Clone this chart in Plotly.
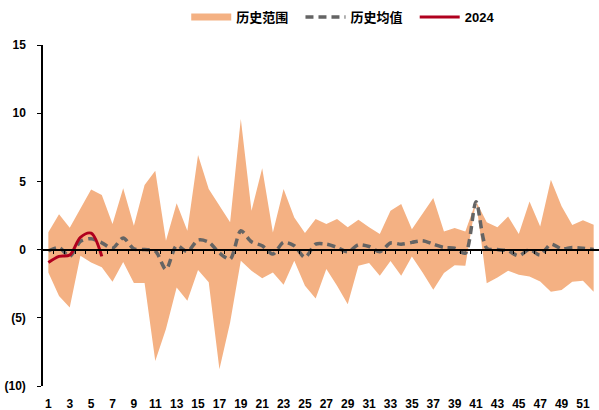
import plotly.graph_objects as go

weeks = list(range(1, 53))

range_upper = [1.28, 2.6, 1.6, 3.0, 4.4, 4.0, 1.87, 4.5, 1.75, 4.73,
               5.78, 0.65, 3.39, 1.38, 6.93, 4.44, 3.2, 2.0, 9.57, 2.85,
               5.96, 1.26, 4.44, 2.36, 1.21, 2.24, 1.87, 2.24, 1.63, 2.19,
               1.63, 1.14, 2.85, 3.34, 1.5, 2.6, 3.78, 1.33, 1.58, 1.33,
               3.55, 2.0, 1.63, 2.43, 1.14, 3.53, 1.7, 5.12, 3.17, 1.8,
               2.16, 1.82]

range_lower = [-1.67, -3.4, -4.25, -0.45, -0.95, -1.3, -2.35, -0.9, -2.45, -2.45,
               -8.16, -5.83, -2.78, -3.75, -1.5, -2.4, -8.77, -5.34, -0.82, -1.55,
               -2.1, -1.67, -2.58, -0.82, -2.65, -3.58, -1.43, -2.65, -4.0, -1.19,
               -0.99, -1.92, -0.84, -1.92, -0.5, -1.67, -2.95, -1.72, -1.14, -1.19,
               3.55, -2.46, -2.04, -1.55, -1.85, -1.97, -2.33, -3.09, -2.97, -2.36,
               -2.29, -3.09]

hist_mean = [-0.1, 0.15, -0.5, 0.6, 0.8, 0.5, 0.1, 0.85, 0.05, 0.0,
             -0.1, -1.45, 0.3, -0.15, 0.7, 0.55, -0.25, -0.7, 1.38, 0.57,
             0.28, -0.33, 0.53, 0.28, -0.57, 0.4, 0.4, 0.16, -0.16, 0.35,
             0.23, -0.16, 0.48, 0.4, 0.53, 0.65, 0.4, 0.16, 0.1, -0.26,
             3.5, 0.1, 0.0, -0.1, -0.45, 0.0, -0.4, 0.4, 0.05, 0.15,
             0.1, 0.0]

weeks_2024 = [1, 2, 3, 4, 5, 6]
values_2024 = [-0.95, -0.5, -0.4, 0.9, 1.2, -0.5]

y_tickvals = [15, 10, 5, 0, -5, -10]
y_ticktext = ["15", "10", "5", "0", "(5)", "(10)"]
x_tickvals = list(range(1, 53, 2))

FILL = "#F4B183"
GRAY = "#646464"
RED = "#B0001E"
FONT = "Liberation Sans, Arial, Noto Sans CJK SC, sans-serif"

fig = go.Figure()

fig.add_trace(go.Scatter(x=weeks, y=range_lower, mode="lines",
                         line=dict(width=0, color=FILL), showlegend=False,
                         hoverinfo="skip"))
fig.add_trace(go.Scatter(x=weeks, y=range_upper, mode="lines",
                         line=dict(width=0, color=FILL), fill="tonexty",
                         fillcolor=FILL, showlegend=False, hoverinfo="skip"))
# legend proxy for range
fig.add_trace(go.Scatter(x=[None], y=[None], mode="lines",
                         line=dict(width=7, color=FILL), name="历史范围  "))
fig.add_trace(go.Scatter(x=weeks, y=hist_mean, mode="lines", name="历史均值  ",
                         line=dict(color=GRAY, width=3.5, dash="8px,5px",
                                   shape="spline", smoothing=0.8)))
fig.add_trace(go.Scatter(x=weeks_2024, y=values_2024, mode="lines", name="2024",
                         line=dict(color=RED, width=3, shape="spline",
                                   smoothing=0.9)))

# tick-mark axis sitting on the zero line
fig.add_trace(go.Scatter(x=[None], y=[None], xaxis="x2", showlegend=False))

fig.update_layout(
    width=599, height=410,
    margin=dict(l=43, r=0, t=45, b=24, autoexpand=False),
    paper_bgcolor="white", plot_bgcolor="white",
    font=dict(family=FONT, size=12, color="black", weight="bold"),
    legend=dict(orientation="h", x=0.54, xanchor="center", y=1.082,
                yanchor="middle", font=dict(size=13, weight="bold"),
                itemwidth=40, traceorder="normal"),
    xaxis=dict(range=[0.5, 52.5], tickvals=x_tickvals,
               ticktext=[str(v) for v in x_tickvals],
               showline=False, showgrid=False, zeroline=False, ticks="",
               automargin=False, ticklabelstandoff=9,
               tickfont=dict(size=12, weight="bold")),
    xaxis2=dict(range=[0.5, 52.5], overlaying="x", anchor="free",
                position=0.4, showline=True, linecolor="black", linewidth=1.5,
                ticks="outside", ticklen=4, tickwidth=1.2, tickcolor="black",
                tickvals=[k + 0.5 for k in range(1, 52)],
                showticklabels=False, showgrid=False, zeroline=False,
                automargin=False, side="bottom"),
    yaxis=dict(range=[-10, 15], tickvals=y_tickvals, ticktext=y_ticktext,
               showline=True, linecolor="black", linewidth=1.5,
               ticks="outside", ticklen=4, tickwidth=1.2, tickcolor="black",
               showgrid=False, zeroline=False, automargin=False,
               ticklabelstandoff=9,
               tickfont=dict(size=12, weight="bold")),
)

fig.write_html("out.html", config={"displayModeBar": False},
               post_script="document.body.style.margin='0px';")
